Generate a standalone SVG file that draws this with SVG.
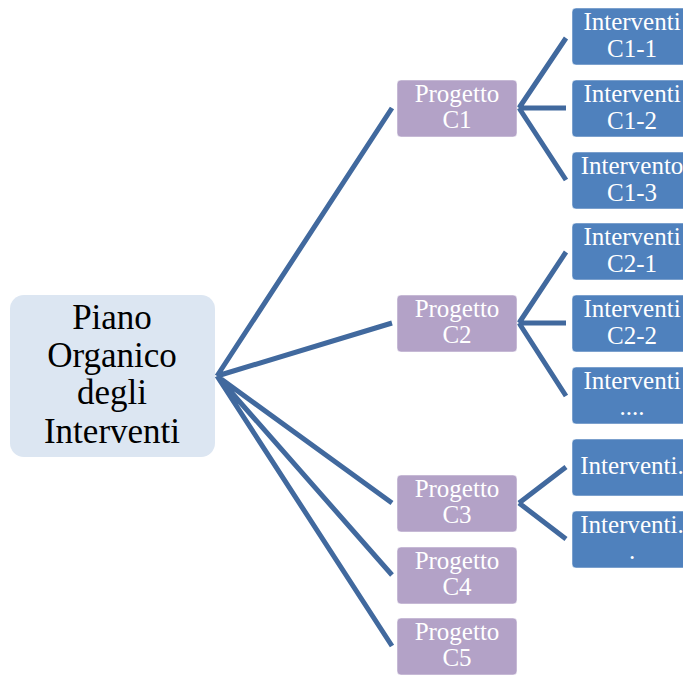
<svg xmlns="http://www.w3.org/2000/svg" width="683" height="675" viewBox="0 0 683 675">
<style>
.conn{stroke:#41699e;stroke-width:5;fill:none;stroke-linecap:butt}
.root{fill:#dce6f2}
.prog{fill:#b3a2c7;stroke:#ffffff;stroke-opacity:0.5;stroke-width:1}
.int{fill:#4f81bd;stroke:#ffffff;stroke-opacity:0.5;stroke-width:1}
.tr{font-family:'Liberation Serif','Times New Roman','DejaVu Serif',serif;font-size:35px;fill:#000;text-anchor:middle}
.tw{font-family:'Liberation Serif','Times New Roman','DejaVu Serif',serif;font-size:25px;fill:#fff;text-anchor:middle}
</style>
<rect width="683" height="675" fill="#fff"/>
<g id="connectors">
<path class="conn" d="M217,376 L392,108 M217,376 L392,323 M217,376 L392,503 M217,376 L392,575 M217,376 L392,646"/>
<path class="conn" d="M519,108 L566,38 M519,108 L566,108 M519,108 L566,180"/>
<path class="conn" d="M519,323 L566,252 M519,323 L566,323 M519,323 L566,396"/>
<path class="conn" d="M519,503 L566,467 M519,503 L566,539"/>
</g>
<g id="root">
<rect class="root" x="10" y="295" width="205" height="162" rx="14"/>
<text class="tr" x="112" y="329">Piano</text>
<text class="tr" x="112" y="367">Organico</text>
<text class="tr" x="112" y="404">degli</text>
<text class="tr" x="112" y="443">Interventi</text>
</g>
<g id="progetto-c1">
<rect class="prog" x="397" y="80" width="120" height="57" rx="4"/>
<text class="tw" x="457" y="102">Progetto</text>
<text class="tw" x="457" y="128">C1</text>
</g>
<g id="progetto-c2">
<rect class="prog" x="397" y="295" width="120" height="57" rx="4"/>
<text class="tw" x="457" y="317">Progetto</text>
<text class="tw" x="457" y="343">C2</text>
</g>
<g id="progetto-c3">
<rect class="prog" x="397" y="475" width="120" height="57" rx="4"/>
<text class="tw" x="457" y="497">Progetto</text>
<text class="tw" x="457" y="523">C3</text>
</g>
<g id="progetto-c4">
<rect class="prog" x="397" y="547" width="120" height="57" rx="4"/>
<text class="tw" x="457" y="569">Progetto</text>
<text class="tw" x="457" y="595">C4</text>
</g>
<g id="progetto-c5">
<rect class="prog" x="397" y="618" width="120" height="57" rx="4"/>
<text class="tw" x="457" y="640">Progetto</text>
<text class="tw" x="457" y="666">C5</text>
</g>
<g id="int-c1-1">
<rect class="int" x="572" y="8" width="120" height="57" rx="4"/>
<text class="tw" x="632" y="30">Interventi</text>
<text class="tw" x="632" y="57">C1-1</text>
</g>
<g id="int-c1-2">
<rect class="int" x="572" y="80" width="120" height="57" rx="4"/>
<text class="tw" x="632" y="102">Interventi</text>
<text class="tw" x="632" y="129">C1-2</text>
</g>
<g id="int-c1-3">
<rect class="int" x="572" y="152" width="120" height="57" rx="4"/>
<text class="tw" x="632" y="174">Intervento</text>
<text class="tw" x="632" y="201">C1-3</text>
</g>
<g id="int-c2-1">
<rect class="int" x="572" y="223" width="120" height="57" rx="4"/>
<text class="tw" x="632" y="245">Interventi</text>
<text class="tw" x="632" y="272">C2-1</text>
</g>
<g id="int-c2-2">
<rect class="int" x="572" y="295" width="120" height="57" rx="4"/>
<text class="tw" x="632" y="317">Interventi</text>
<text class="tw" x="632" y="344">C2-2</text>
</g>
<g id="int-c2-3">
<rect class="int" x="572" y="367" width="120" height="57" rx="4"/>
<text class="tw" x="632" y="389">Interventi</text>
<text class="tw" x="632" y="415">....</text>
</g>
<g id="int-c3-1">
<rect class="int" x="572" y="439" width="120" height="57" rx="4"/>
<text class="tw" x="632" y="474">Interventi.</text>
</g>
<g id="int-c3-2">
<rect class="int" x="572" y="511" width="120" height="57" rx="4"/>
<text class="tw" x="632" y="533">Interventi.</text>
<text class="tw" x="632" y="559">.</text>
</g>
</svg>
